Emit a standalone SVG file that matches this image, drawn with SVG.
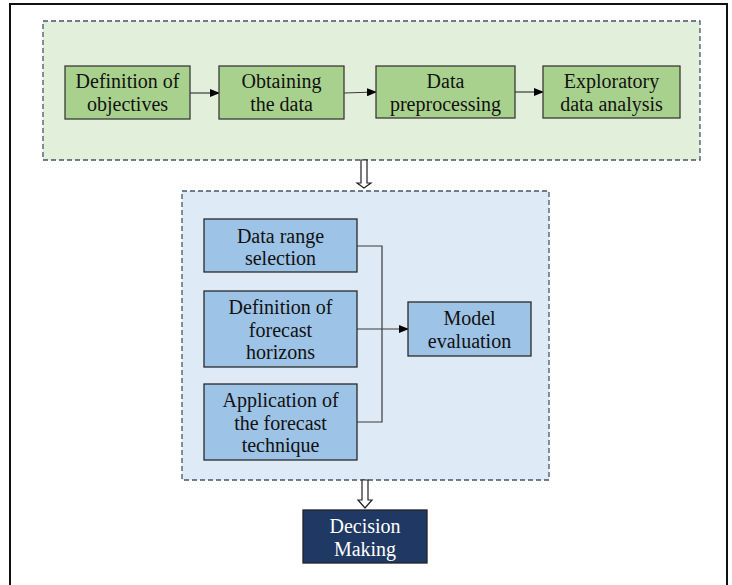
<svg xmlns="http://www.w3.org/2000/svg" width="732" height="585" viewBox="0 0 732 585">
<defs>
<marker id="ah" markerWidth="10" markerHeight="8" refX="9" refY="4" orient="auto" markerUnits="userSpaceOnUse">
<path d="M0,0 L10,4 L0,8 z" fill="#000"/>
</marker>
<style>
text{font-family:"Liberation Serif","Times New Roman",serif;font-size:20px;text-anchor:middle;fill:#111}
.g{fill:#a9d18e;stroke:#3a3a3a;stroke-width:1.3}
.b{fill:#9dc3e6;stroke:#2a2a2a;stroke-width:1.3}
.c{stroke:#3a3a3a;stroke-width:1.2;fill:none}
.big{fill:#fff;stroke:#222;stroke-width:1.2}
</style>
</defs>
<rect x="0" y="0" width="732" height="585" fill="#fff"/>
<rect x="10" y="4" width="717" height="590" fill="none" stroke="#111" stroke-width="2"/>
<g id="phase1">
<rect x="43" y="21" width="657" height="139" fill="#e2efda" stroke="#44546a" stroke-width="1.3" stroke-dasharray="5,3"/>
</g>
<g id="phase2">
<rect x="182" y="191" width="367" height="289" fill="#deebf7" stroke="#44546a" stroke-width="1.3" stroke-dasharray="5,3"/>
</g>
<g id="connectors">
<line class="c" x1="190" y1="93" x2="219" y2="93" marker-end="url(#ah)"/>
<line class="c" x1="344" y1="93" x2="376" y2="92" marker-end="url(#ah)"/>
<line class="c" x1="515" y1="92" x2="543" y2="92" marker-end="url(#ah)"/>
<polyline class="c" points="357,246 382,246 382,422 357,422"/>
<line class="c" x1="357" y1="329" x2="408" y2="329" marker-end="url(#ah)"/>
<path class="big" d="M361,160 L367,160 L367,183 L371,183 L364,188 L357,183 L361,183 Z"/>
<path class="big" d="M362,480 L368,480 L368,500 L372,500 L365,508 L358,500 L362,500 Z"/>
</g>
<g id="n1"><rect class="g" x="65" y="66" width="125" height="53"/><text x="127.5" y="88">Definition of</text><text x="127.5" y="111">objectives</text></g>
<g id="n2"><rect class="g" x="219" y="66" width="125" height="53"/><text x="281.5" y="88">Obtaining</text><text x="281.5" y="111">the data</text></g>
<g id="n3"><rect class="g" x="376" y="66" width="139" height="52"/><text x="445.5" y="88">Data</text><text x="445.5" y="111">preprocessing</text></g>
<g id="n4"><rect class="g" x="543" y="66" width="137" height="52"/><text x="611.5" y="88">Exploratory</text><text x="611.5" y="111">data analysis</text></g>
<g id="n5"><rect class="b" x="204" y="219" width="153" height="53"/><text x="280.5" y="243">Data range</text><text x="280.5" y="265">selection</text></g>
<g id="n6"><rect class="b" x="204" y="291" width="153" height="76"/><text x="280.5" y="314">Definition of</text><text x="280.5" y="337">forecast</text><text x="280.5" y="359">horizons</text></g>
<g id="n7"><rect class="b" x="204" y="384" width="153" height="76"/><text x="280.5" y="407">Application of</text><text x="280.5" y="430">the forecast</text><text x="280.5" y="452">technique</text></g>
<g id="n8"><rect class="b" x="408" y="302" width="123" height="54"/><text x="469.5" y="325">Model</text><text x="469.5" y="348">evaluation</text></g>
<g id="n9"><rect x="303" y="510" width="124" height="53" fill="#1f3864" stroke="#222" stroke-width="1.3"/><text x="365" y="533" style="fill:#fff">Decision</text><text x="365" y="556" style="fill:#fff">Making</text></g>
</svg>
